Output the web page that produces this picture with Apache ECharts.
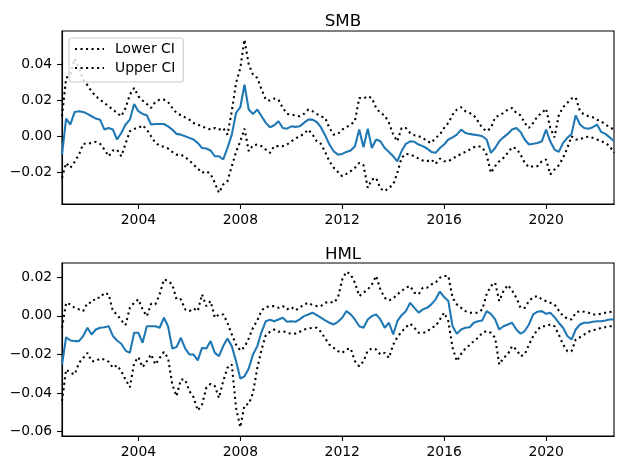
<!DOCTYPE html>
<html><head><meta charset="utf-8">
<script src="https://cdn.jsdelivr.net/npm/echarts@6/dist/echarts.min.js"></script>
<style>html,body{margin:0;padding:0;background:#fff}#c{width:630px;height:470px}</style>
</head><body><div id="c"></div>
<script>
// Sampling: every 2 months, Jan 2001 .. Sep 2022
const nPoints = 131;
const dates = [];
for (let i = 0; i < nPoints; i++) dates.push(Date.UTC(2001, i * 2, 1));

const tickYears = [2004, 2008, 2012, 2016, 2020];
const smbTicks = [-0.02, 0, 0.02, 0.04];
const hmlTicks = [-0.06, -0.04, -0.02, 0, 0.02];

const smbEst = [-0.0102,0.0098,0.0065,0.0135,0.0139,0.0135,0.0124,0.0111,0.0098,0.0092,
 0.0037,0.0046,0.0037,-0.0018,0.0018,0.0065,0.0092,0.0179,0.0139,0.0124,
 0.0116,0.0065,0.0068,0.0068,0.0068,0.0055,0.0037,0.0013,0.0009,0.0000,
 -0.0009,-0.0018,-0.0037,-0.0065,-0.0068,-0.0079,-0.0111,-0.0111,-0.0129,-0.0065,
 0.0009,0.0129,0.0161,0.0286,0.0148,0.0124,0.0148,0.0111,0.0074,0.0050,
 0.0061,0.0083,0.0046,0.0042,0.0055,0.0052,0.0055,0.0074,0.0092,0.0092,
 0.0079,0.0050,0.0006,-0.0046,-0.0083,-0.0102,-0.0098,-0.0087,-0.0079,-0.0055,
 0.0037,-0.0061,0.0042,-0.0065,-0.0018,-0.0028,-0.0065,-0.0087,-0.0111,-0.0139,
 -0.0083,-0.0042,-0.0028,-0.0031,-0.0046,-0.0055,-0.0068,-0.0087,-0.0092,-0.0065,
 -0.0046,-0.0018,-0.0006,0.0009,0.0037,0.0018,0.0013,0.0009,0.0006,0.0000,
 -0.0018,-0.0092,-0.0065,-0.0028,-0.0006,0.0013,0.0037,0.0046,0.0024,-0.0018,
 -0.0046,-0.0042,-0.0037,-0.0028,0.0037,-0.0028,-0.0074,-0.0087,-0.0037,-0.0009,
 0.0013,0.0116,0.0065,0.0046,0.0042,0.0050,0.0065,0.0024,0.0013,-0.0006,
 -0.0028];

const smbUpper = [0.0111,0.0323,0.0342,0.0430,0.0379,0.0314,0.0283,0.0249,0.0222,0.0203,
 0.0185,0.0166,0.0148,0.0129,0.0111,0.0157,0.0231,0.0268,0.0222,0.0198,
 0.0179,0.0157,0.0190,0.0203,0.0203,0.0190,0.0157,0.0129,0.0116,0.0105,
 0.0092,0.0074,0.0065,0.0054,0.0046,0.0037,0.0046,0.0037,0.0046,0.0009,
 0.0139,0.0296,0.0379,0.0536,0.0397,0.0342,0.0323,0.0259,0.0203,0.0198,
 0.0209,0.0203,0.0157,0.0124,0.0120,0.0116,0.0111,0.0124,0.0148,0.0139,
 0.0124,0.0111,0.0102,0.0046,0.0009,0.0013,0.0037,0.0050,0.0065,0.0083,
 0.0212,0.0209,0.0222,0.0212,0.0157,0.0129,0.0116,0.0074,0.0009,-0.0028,
 0.0046,0.0046,0.0018,0.0006,0.0000,-0.0009,-0.0028,-0.0037,-0.0009,0.0009,
 0.0046,0.0074,0.0120,0.0148,0.0161,0.0139,0.0129,0.0116,0.0083,0.0046,
 0.0028,0.0046,0.0105,0.0116,0.0129,0.0148,0.0157,0.0129,0.0116,0.0074,
 0.0046,0.0074,0.0111,0.0129,0.0153,0.0046,-0.0006,0.0116,0.0161,0.0185,
 0.0210,0.0215,0.0139,0.0120,0.0111,0.0105,0.0092,0.0083,0.0065,0.0050,
 0.0037];

const smbLower = [-0.0231,-0.0148,-0.0175,-0.0142,-0.0102,-0.0042,-0.0042,-0.0037,-0.0031,-0.0042,
 -0.0074,-0.0111,-0.0079,-0.0074,-0.0111,-0.0042,0.0028,0.0041,0.0046,0.0061,
 0.0037,0.0000,-0.0037,-0.0052,-0.0059,-0.0068,-0.0087,-0.0102,-0.0102,-0.0116,
 -0.0135,-0.0157,-0.0179,-0.0203,-0.0194,-0.0209,-0.0259,-0.0314,-0.0268,-0.0249,
 -0.0166,-0.0087,-0.0028,0.0042,-0.0083,-0.0050,-0.0046,-0.0055,-0.0074,-0.0092,
 -0.0055,-0.0055,-0.0055,-0.0046,-0.0028,-0.0013,0.0000,0.0013,0.0037,0.0009,
 -0.0028,-0.0042,-0.0087,-0.0139,-0.0175,-0.0198,-0.0222,-0.0209,-0.0194,-0.0175,
 -0.0148,-0.0161,-0.0286,-0.0240,-0.0231,-0.0290,-0.0305,-0.0286,-0.0268,-0.0203,
 -0.0120,-0.0098,-0.0102,-0.0111,-0.0124,-0.0135,-0.0139,-0.0129,-0.0153,-0.0124,
 -0.0139,-0.0139,-0.0124,-0.0111,-0.0098,-0.0087,-0.0074,-0.0061,-0.0055,-0.0061,
 -0.0102,-0.0203,-0.0166,-0.0139,-0.0120,-0.0092,-0.0061,-0.0068,-0.0102,-0.0148,
 -0.0172,-0.0166,-0.0166,-0.0139,-0.0129,-0.0212,-0.0185,-0.0161,-0.0120,-0.0065,
 0.0000,-0.0018,-0.0018,-0.0006,-0.0002,-0.0009,-0.0018,-0.0028,-0.0037,-0.0055,
 -0.0092];

const hmlEst = [-0.0252,-0.0111,-0.0128,-0.0131,-0.0131,-0.0105,-0.0062,-0.0097,-0.0071,-0.0062,
 -0.0059,-0.0054,-0.0105,-0.0128,-0.0145,-0.0180,-0.0192,-0.0088,-0.0088,-0.0140,
 -0.0054,-0.0054,-0.0054,-0.0062,-0.0010,-0.0054,-0.0169,-0.0162,-0.0114,-0.0169,
 -0.0200,-0.0200,-0.0231,-0.0166,-0.0169,-0.0131,-0.0192,-0.0209,-0.0157,-0.0117,
 -0.0157,-0.0235,-0.0325,-0.0313,-0.0273,-0.0200,-0.0157,-0.0083,-0.0028,-0.0021,
 -0.0028,-0.0019,-0.0010,-0.0031,-0.0028,-0.0031,-0.0019,-0.0002,0.0007,0.0016,
 0.0003,-0.0010,-0.0024,-0.0036,-0.0045,-0.0031,-0.0010,0.0024,0.0007,-0.0019,
 -0.0054,-0.0062,-0.0019,-0.0002,0.0007,-0.0019,-0.0062,-0.0036,-0.0097,-0.0028,
 0.0003,0.0024,0.0067,0.0041,0.0016,0.0033,0.0041,0.0059,0.0085,0.0125,
 0.0097,0.0076,-0.0054,-0.0093,-0.0071,-0.0062,-0.0059,-0.0036,-0.0028,-0.0024,
 0.0024,0.0010,-0.0019,-0.0071,-0.0054,-0.0045,-0.0036,-0.0071,-0.0093,-0.0079,
 -0.0045,0.0007,0.0021,0.0024,0.0010,0.0016,-0.0007,-0.0036,-0.0062,-0.0105,
 -0.0123,-0.0071,-0.0045,-0.0036,-0.0036,-0.0031,-0.0028,-0.0028,-0.0024,-0.0019,
 -0.0019];

const hmlUpper = [-0.0062,0.0067,0.0059,0.0041,0.0033,0.0024,0.0067,0.0067,0.0093,0.0093,
 0.0119,0.0111,0.0024,0.0007,-0.0024,-0.0048,0.0041,0.0067,0.0085,0.0033,
 -0.0002,0.0062,0.0059,0.0111,0.0188,0.0180,0.0162,0.0085,0.0085,0.0033,
 0.0024,0.0038,0.0024,0.0111,0.0050,0.0076,-0.0010,0.0007,0.0007,-0.0036,
 -0.0097,-0.0149,-0.0180,-0.0162,-0.0117,-0.0062,-0.0024,0.0028,0.0045,0.0050,
 0.0050,0.0041,0.0050,0.0033,0.0045,0.0028,0.0041,0.0059,0.0067,0.0055,
 0.0050,0.0050,0.0067,0.0073,0.0067,0.0093,0.0188,0.0228,0.0214,0.0171,
 0.0102,0.0119,0.0136,0.0162,0.0206,0.0136,0.0093,0.0079,0.0090,0.0111,
 0.0128,0.0145,0.0154,0.0119,0.0111,0.0145,0.0145,0.0162,0.0171,0.0197,
 0.0206,0.0206,0.0093,0.0059,0.0041,0.0024,0.0016,0.0016,0.0016,0.0033,
 0.0111,0.0154,0.0171,0.0076,0.0128,0.0159,0.0131,0.0093,0.0041,0.0041,
 0.0076,0.0097,0.0102,0.0085,0.0076,0.0067,0.0059,0.0028,-0.0002,-0.0014,
 -0.0019,0.0016,0.0024,0.0021,0.0016,0.0007,0.0007,0.0010,0.0016,0.0019,
 0.0024];

const hmlLower = [-0.0442,-0.0278,-0.0295,-0.0304,-0.0244,-0.0218,-0.0192,-0.0235,-0.0235,-0.0221,
 -0.0226,-0.0238,-0.0269,-0.0256,-0.0287,-0.0330,-0.0370,-0.0244,-0.0214,-0.0266,
 -0.0235,-0.0200,-0.0252,-0.0218,-0.0187,-0.0218,-0.0356,-0.0416,-0.0330,-0.0330,
 -0.0390,-0.0421,-0.0490,-0.0460,-0.0373,-0.0352,-0.0364,-0.0425,-0.0338,-0.0269,
 -0.0252,-0.0477,-0.0577,-0.0463,-0.0456,-0.0399,-0.0269,-0.0174,-0.0100,-0.0083,
 -0.0071,-0.0083,-0.0079,-0.0088,-0.0093,-0.0092,-0.0083,-0.0071,-0.0066,-0.0062,
 -0.0062,-0.0083,-0.0117,-0.0149,-0.0166,-0.0183,-0.0192,-0.0174,-0.0169,-0.0235,
 -0.0261,-0.0235,-0.0180,-0.0169,-0.0174,-0.0200,-0.0192,-0.0218,-0.0149,-0.0111,
 -0.0083,-0.0059,-0.0041,-0.0062,-0.0088,-0.0088,-0.0083,-0.0062,-0.0054,-0.0019,
 0.0016,-0.0028,-0.0166,-0.0235,-0.0197,-0.0169,-0.0152,-0.0131,-0.0114,-0.0088,
 -0.0079,-0.0088,-0.0114,-0.0252,-0.0218,-0.0200,-0.0157,-0.0174,-0.0209,-0.0200,
 -0.0149,-0.0105,-0.0071,-0.0054,-0.0054,-0.0045,-0.0054,-0.0097,-0.0149,-0.0183,
 -0.0183,-0.0123,-0.0111,-0.0097,-0.0083,-0.0074,-0.0071,-0.0062,-0.0059,-0.0054,
 -0.0054];

const FONT = 'DejaVu Sans';
const tickTs = tickYears.map(y => Date.UTC(y, 0, 1));
const yFmt = v => (v < -1e-9 ? '\u2212' : '') + Math.abs(v).toFixed(2);
const pair = arr => dates.map((d, i) => [d, arr[i]]);

function xAxis(idx) {
  return {
    type: 'value', gridIndex: idx, min: dates[0], max: dates[nPoints - 1], scale: true,
    axisLine: { show: true, onZero: false, lineStyle: { color: '#000', width: 1.1 } },
    axisTick: { show: true, length: 4.9, lineStyle: { color: '#000', width: 1.1 }, customValues: tickTs },
    axisLabel: { customValues: tickTs, formatter: v => String(new Date(v).getUTCFullYear()),
      color: '#000', fontSize: 13.9, fontFamily: FONT, margin: 9.8, hideOverlap: false },
    splitLine: { show: false }
  };
}
function yAxis(idx, min, max, ticks) {
  return {
    type: 'value', gridIndex: idx, min: min, max: max,
    axisLine: { show: true, onZero: false, lineStyle: { color: '#000', width: 1.1 } },
    axisTick: { show: true, length: 4.9, lineStyle: { color: '#000', width: 1.1 }, customValues: ticks },
    axisLabel: { customValues: ticks, formatter: yFmt, color: '#000', fontSize: 13.9, fontFamily: FONT, margin: 9.8 },
    splitLine: { show: false }
  };
}
const dotted = { color: '#000', width: 2.08, type: [2.08, 3.44], cap: 'butt' };
function line(name, idx, arr, style, z) {
  return { type: 'line', name: name, xAxisIndex: idx, yAxisIndex: idx, data: pair(arr),
    symbol: 'none', showSymbol: false, lineStyle: style, itemStyle: { color: style.color },
    z: z, silent: true };
}
const blue = { color: '#1f77b4', width: 2.08 };

const chart = echarts.init(document.getElementById('c'), null, { renderer: 'canvas' });
chart.setOption({
  animation: false,
  backgroundColor: '#fff',
  textStyle: { fontFamily: FONT },
  title: [
    { text: 'SMB', left: 338, top: 8, textAlign: 'center', textStyle: { fontSize: 16.7, fontWeight: 'normal', color: '#000', fontFamily: FONT } },
    { text: 'HML', left: 338, top: 241, textAlign: 'center', textStyle: { fontSize: 16.7, fontWeight: 'normal', color: '#000', fontFamily: FONT } }
  ],
  legend: {
    data: ['Lower CI', 'Upper CI'], orient: 'vertical', left: 69, top: 38,
    itemWidth: 29, itemHeight: 14, itemGap: 5, padding: [4, 8, 7, 5],
    backgroundColor: 'rgba(255,255,255,0.8)', borderColor: '#cccccc', borderWidth: 1.1, borderRadius: 3,
    itemStyle: { color: 'rgba(0,0,0,0)', borderWidth: 0, borderColor: 'rgba(0,0,0,0)' },
    textStyle: { fontSize: 13.9, color: '#000', fontFamily: FONT, padding: [0, 0, 0, 6] },
    selectedMode: false
  },
  grid: [
    { left: 62, right: 16, top: 31, height: 173, show: true, borderColor: '#000', borderWidth: 1.1, backgroundColor: 'transparent', containLabel: false },
    { left: 62, right: 16, top: 263, height: 173, show: true, borderColor: '#000', borderWidth: 1.1, backgroundColor: 'transparent', containLabel: false }
  ],
  xAxis: [xAxis(0), xAxis(1)],
  yAxis: [yAxis(0, -0.0376, 0.0584, smbTicks), yAxis(1, -0.0622, 0.0273, hmlTicks)],
  series: [
    line('SMB', 0, smbEst, blue, 2),
    line('Lower CI', 0, smbLower, dotted, 3),
    line('Upper CI', 0, smbUpper, dotted, 3),
    line('HML', 1, hmlEst, blue, 2),
    line('Lower CI', 1, hmlLower, dotted, 3),
    line('Upper CI', 1, hmlUpper, dotted, 3)
  ]
});
</script></body></html>
